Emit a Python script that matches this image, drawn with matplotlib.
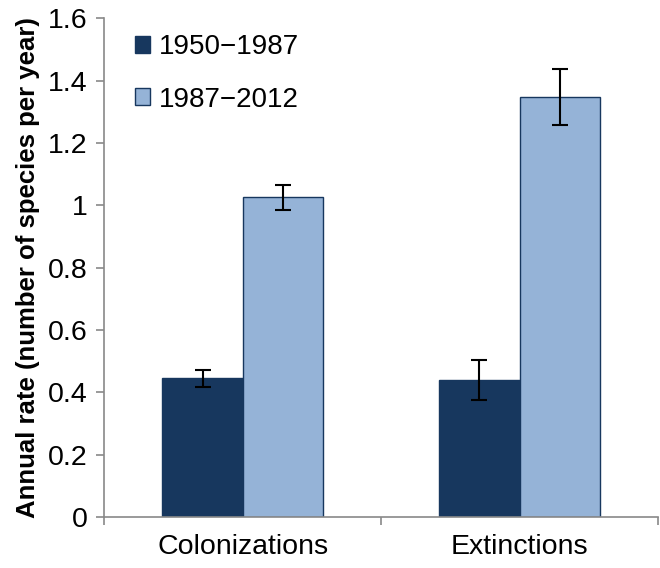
import numpy as np
import matplotlib.pyplot as plt

plt.rcParams['font.family'] = ['Liberation Sans', 'DejaVu Sans']

categories = ['Colonizations', 'Extinctions']
periods = ['1950\u22121987', '1987\u22122012']
rate_early = [0.445, 0.439]
err_early = [0.027, 0.063]
rate_late = [1.026, 1.347]
err_late = [0.040, 0.089]

dark = '#17375E'
light = '#95B3D7'
axis_col = '#898989'

fig = plt.figure(figsize=(6.6, 5.68), dpi=100)
ax = fig.add_axes([0.158, 0.09, 0.839, 0.878])

x = np.arange(len(categories))
w = 0.29
ekw = dict(ecolor='black', elinewidth=1.5, capsize=6, capthick=1.5)
ax.bar(x - w / 2, rate_early, w, color=dark, edgecolor=dark, linewidth=1,
       yerr=err_early, error_kw=ekw, label=periods[0])
ax.bar(x + w / 2, rate_late, w, color=light, edgecolor=dark, linewidth=1,
       yerr=err_late, error_kw=ekw, label=periods[1])

ax.set_xlim(-0.5, 1.5)
ax.set_ylim(0, 1.6)
ax.set_yticks(np.arange(0, 1.61, 0.2))
ax.set_yticklabels(['0', '0.2', '0.4', '0.6', '0.8', '1', '1.2', '1.4', '1.6'])
ax.set_xticks(x)
ax.set_xticklabels(categories)
ax.set_xticks([-0.5, 0.5, 1.5], minor=True)
ax.tick_params(axis='x', which='major', length=0, labelsize=20.5, pad=12)
ax.tick_params(axis='x', which='minor', length=6, width=1.2, color=axis_col, direction='out')
ax.tick_params(axis='y', length=6, width=1.2, color=axis_col, labelsize=20.5, pad=6)

for s in ['top', 'right']:
    ax.spines[s].set_visible(False)
for s in ['left', 'bottom']:
    ax.spines[s].set_color(axis_col)
    ax.spines[s].set_linewidth(1.2)

ax.set_ylabel('Annual rate (number of species per year)', fontsize=18.5,
              fontweight='bold', labelpad=6)

ax.legend(loc='upper left', bbox_to_anchor=(0.035, 0.99), frameon=False,
          fontsize=20, handlelength=0.55, handleheight=0.55, handletextpad=0.3,
          labelspacing=0.95, borderaxespad=0)

fig.savefig('out.png', dpi=100)
